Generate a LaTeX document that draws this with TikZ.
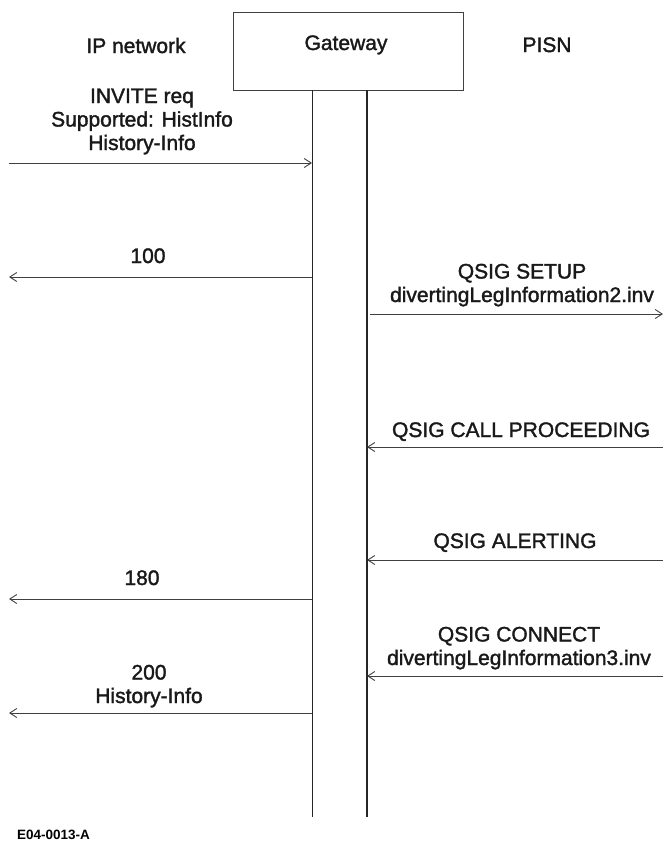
\documentclass[tikz,border=0pt]{standalone}
\usepackage{fontspec}
\setmainfont{Liberation Sans}
\newfontfamily\lblfont[FakeBold=1.6]{Liberation Sans}
\usetikzlibrary{arrows.meta,positioning}

\begin{document}
\begin{tikzpicture}[x=1pt,y=-1pt]
\tikzstyle{entity}=[rectangle, draw=black!75, line width=1pt, minimum width=230pt, minimum height=78pt]
\tikzstyle{msg}=[-{Straight Barb[length=7pt,width=9pt]}, draw=black!75, line width=0.9pt]
\tikzstyle{life}=[draw=black!85, line width=1pt]
\tikzstyle{lbl}=[font=\lblfont\fontsize{21}{23.5}\selectfont, text=black!90, align=center, inner sep=0pt, anchor=base]
  \useasboundingbox (0,0) rectangle (663,841);
  % entities
  \node[entity] (gw) at (348,51) {};
  \node[lbl] (gwname) at (346,50) {Gateway};
  \node[lbl] (ipnet) at (136,53) {IP network};
  \node[lbl] (pisn) at (547,52) {PISN};
  % lifelines
  \coordinate (ipTop) at (312,90);
  \coordinate (ipBot) at (312,817);
  \coordinate (qsTop) at (367,90);
  \coordinate (qsBot) at (367,817);
  \draw[life] (ipTop) -- (ipBot);
  \draw[life, line width=1.5pt] (qsTop) -- (qsBot);
  % messages on the IP side
  \coordinate (ipEdge1) at (9,163);
  \coordinate (ipEdge2) at (9,277);
  \coordinate (ipEdge3) at (9,599);
  \coordinate (ipEdge4) at (9,713);
  \coordinate (gwIn1) at (312,163);
  \coordinate (gwIn2) at (312,277);
  \coordinate (gwIn3) at (312,599);
  \coordinate (gwIn4) at (312,713);
  \node[lbl] (invite) at (142,150) {INVITE req\\Supported: HistInfo\\History-Info};
  \node[lbl] (trying) at (148,263) {100};
  \node[lbl] (ringing) at (142,585) {180};
  \node[lbl] (okay) at (149,703) {200\\History-Info};
  \draw[msg] (ipEdge1) -- (gwIn1);
  \draw[msg] (gwIn2) -- (ipEdge2);
  \draw[msg] (gwIn3) -- (ipEdge3);
  \draw[msg] (gwIn4) -- (ipEdge4);
  % messages on the PISN side
  \coordinate (gwOut1) at (370,314);
  \coordinate (gwOut2) at (367,447);
  \coordinate (gwOut3) at (367,560);
  \coordinate (gwOut4) at (367,676);
  \coordinate (qsEdge1) at (663,314);
  \coordinate (qsEdge2) at (663,447);
  \coordinate (qsEdge3) at (663,560);
  \coordinate (qsEdge4) at (663,676);
  \node[lbl] (setup) at (522,302) {QSIG SETUP\\divertingLegInformation2.inv};
  \node[lbl] (proceed) at (521,437) {QSIG CALL PROCEEDING};
  \node[lbl] (alert) at (515,548) {QSIG ALERTING};
  \node[lbl] (connect) at (519,665) {QSIG CONNECT\\divertingLegInformation3.inv};
  \draw[msg] (gwOut1) -- (qsEdge1);
  \draw[msg] (qsEdge2) -- (gwOut2);
  \draw[msg] (qsEdge3) -- (gwOut3);
  \draw[msg] (qsEdge4) -- (gwOut4);
  % figure id
  \node[anchor=base west, inner sep=0pt, font=\bfseries\fontsize{13.5}{15}\selectfont] (figid) at (17,839) {E04-0013-A};
\end{tikzpicture}
\end{document}
